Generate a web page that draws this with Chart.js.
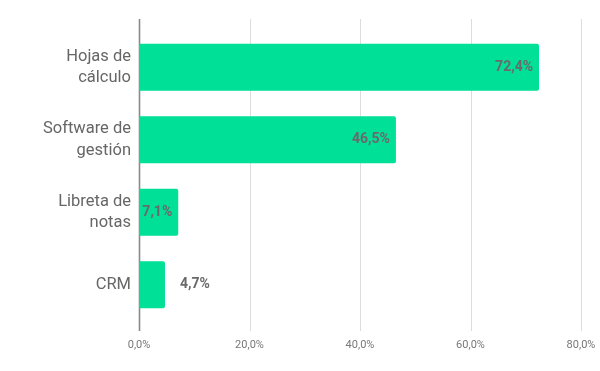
<!DOCTYPE html>
<html>
<head>
<meta charset="utf-8">
<script src="https://cdn.jsdelivr.net/npm/chart.js@4"></script>
<style>
  body { margin: 0; background: #fff; }
  #wrap { width: 600px; height: 371px; }
</style>
</head>
<body>
<div id="wrap"><canvas class="chart"></canvas></div>
<script>
let muhLabels = [["Hojas de", "cálculo"], ["Software de", "gestión"], ["Libreta de", "notas"], "CRM"];
let muhData = [72.4, 46.5, 7.1, 4.7];
let tickValues = [0, 20, 40, 60, 80];

const fmt = (v) => v.toFixed(1).replace(".", ",") + "%";

// grid + axis line, drawn a bit taller than the bar area
let gridPlugin = {
  id: "gridLines",
  beforeDatasetsDraw(chart) {
    let ctx = chart.ctx;
    let x = chart.scales.x;
    ctx.save();
    tickValues.forEach((t) => {
      let px = Math.round(x.getPixelForValue(t)) + 0.5;
      ctx.beginPath();
      ctx.strokeStyle = t === 0 ? "#8a8a8a" : "#dcdcdc";
      ctx.lineWidth = t === 0 ? 1.6 : 1;
      ctx.moveTo(px, 19);
      ctx.lineTo(px, 331);
      ctx.stroke();
    });
    ctx.restore();
  },
};

let valuePlugin = {
  id: "valueLabels",
  afterDatasetsDraw(chart) {
    let ctx = chart.ctx;
    let meta = chart.getDatasetMeta(0);
    ctx.save();
    ctx.font = "bold 14px Roboto";
    ctx.fillStyle = "#6a6a6a";
    ctx.textBaseline = "middle";
    meta.data.forEach((bar, i) => {
      let txt = fmt(muhData[i]);
      let w = ctx.measureText(txt).width;
      let barW = bar.x - bar.base;
      if (w + 6 <= barW) {
        ctx.textAlign = "right";
        ctx.fillText(txt, bar.x - 6, bar.y);
      } else {
        ctx.textAlign = "left";
        ctx.fillText(txt, bar.x + 15, bar.y);
      }
    });
    ctx.restore();
  },
};

let config = {
  type: "bar",
  data: {
    labels: muhLabels,
    datasets: [
      {
        label: "Valor",
        data: muhData,
        backgroundColor: "#00e096",
        borderRadius: 2,
        borderSkipped: "start",
        categoryPercentage: 1.0,
        barPercentage: 0.65,
      },
    ],
  },
  options: {
    indexAxis: "y",
    responsive: true,
    maintainAspectRatio: false,
    animation: false,
    events: [],
    layout: { padding: { top: 31, right: 19, left: 0, bottom: 0 } },
    plugins: {
      legend: { display: false },
      tooltip: { enabled: false },
    },
    scales: {
      x: {
        min: 0,
        max: 80,
        afterBuildTicks: (s) => {
          s.ticks = tickValues.map((v) => ({ value: v }));
        },
        afterFit: (s) => {
          s.height = 50;
          s.paddingLeft = 0;
          s.paddingRight = 0;
        },
        grid: { display: false, drawTicks: false },
        border: { display: false },
        ticks: {
          padding: 18,
          color: "#777",
          font: { family: "Roboto", size: 11 },
          callback: (v) => fmt(v),
        },
      },
      y: {
        afterFit: (s) => {
          s.width = 139;
        },
        grid: { display: false, drawTicks: false },
        border: { display: false },
        ticks: {
          padding: 8,
          color: "#666",
          font: { family: "Roboto", size: 16.5, lineHeight: 1.3 },
        },
      },
    },
  },
  plugins: [gridPlugin, valuePlugin],
};

let mainChart = new Chart(document.querySelector(".chart"), config);
</script>
</body>
</html>
